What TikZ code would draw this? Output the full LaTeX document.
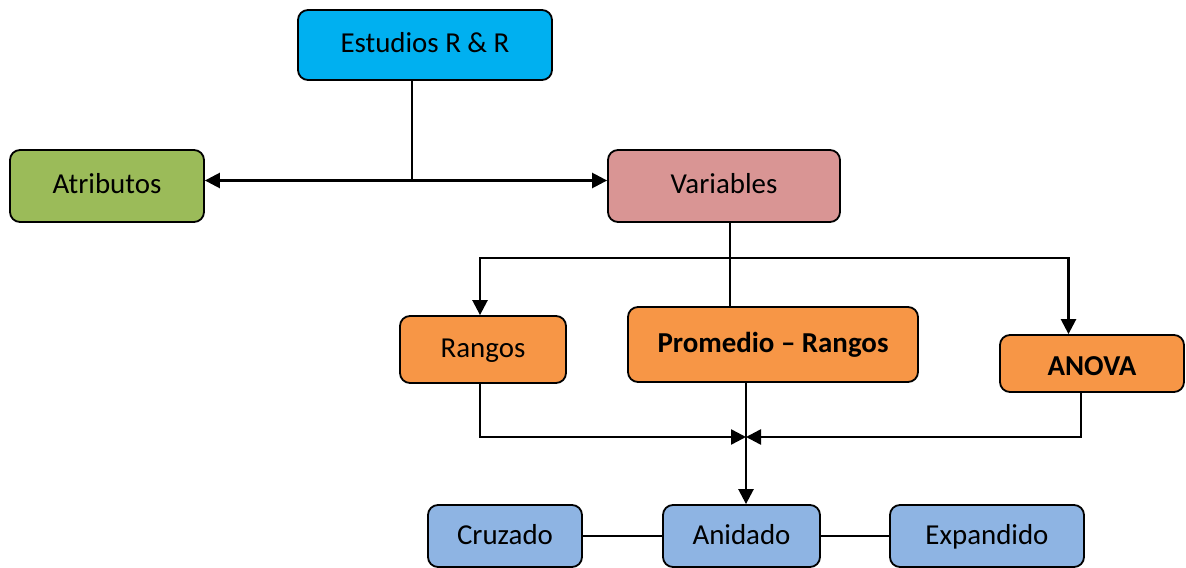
\documentclass[tikz,border=0pt]{standalone}
\usepackage{fontspec}
\setmainfont{Carlito}
\usetikzlibrary{arrows.meta}
\definecolor{cEst}{HTML}{00B0F0}
\definecolor{cAtr}{HTML}{9BBB59}
\definecolor{cVar}{HTML}{D99594}
\definecolor{cOra}{HTML}{F79646}
\definecolor{cBlu}{HTML}{8EB4E3}
\begin{document}
\begin{tikzpicture}[x=1bp,y=-1bp,
  box/.style={draw=black,line width=1.8bp,rounded corners=10bp,inner sep=0pt,
    text height=21bp,text depth=5bp,
    font=\fontsize{29}{34}\selectfont,text=black},
  thinline/.style={line width=1.8bp},
  arr/.style={line width=2.5bp,-{Triangle[length=15bp,width=15bp]}},
  darr/.style={line width=2.5bp,{Triangle[length=15bp,width=15bp]}-{Triangle[length=15bp,width=15bp]}}]
\useasboundingbox (0,0) rectangle (1186,568);
\fill[white] (0,0) rectangle (1186,568);

\node[box,fill=cEst,minimum width=254bp,minimum height=70bp] (est) at (425,45) {Estudios R \& R};
\node[box,fill=cAtr,minimum width=194bp,minimum height=72bp] (atr) at (107,186) {Atributos};
\node[box,fill=cVar,minimum width=232bp,minimum height=72bp] (var) at (724,186) {Variables};
\node[box,fill=cOra,minimum width=166bp,minimum height=67bp] (ran) at (483,349.5) {Rangos};
\node[box,fill=cOra,minimum width=290bp,minimum height=75bp,font=\fontsize{29}{34}\selectfont\bfseries] (pro) at (773,344.5) {Promedio – Rangos};
\node[box,fill=cOra,minimum width=184bp,minimum height=57bp,font=\fontsize{29}{34}\selectfont\bfseries,text height=23bp,text depth=0bp] (ano) at (1092,363.5) {ANOVA};
\node[box,fill=cBlu,minimum width=154bp,minimum height=62bp] (cru) at (505,536) {Cruzado};
\node[box,fill=cBlu,minimum width=157bp,minimum height=62bp] (ani) at (741.5,536) {Anidado};
\node[box,fill=cBlu,minimum width=194bp,minimum height=62bp] (exp) at (987,536) {Expandido};

% Estudios -> Atributos / Variables
\coordinate (j1) at (412,180.5);
\draw[thinline] (est.south -| j1) -- (j1);
\draw[darr] (atr.east |- j1) -- (var.west |- j1);

% Variables -> Rangos / Promedio / ANOVA
\coordinate (j2) at (730,258);
\coordinate (r1) at (480,258);
\coordinate (a1) at (1068.5,258);
\draw[thinline] (var.south -| j2) -- (pro.north -| j2);
\draw[arr] (j2) -| (ran.north -| r1);
\draw[arr] (j2) -| (ano.north -| a1);

% Merge into Anidado
\coordinate (m) at (746,437);
\coordinate (r2) at (480,437);
\coordinate (a2) at (1081,437);
\draw[arr] (ran.south -| r2) |- (m);
\draw[arr] (ano.south -| a2) |- (m);
\draw[arr] (pro.south -| m) -- (ani.north -| m);

% Bottom row
\draw[thinline] (cru) -- (ani);
\draw[thinline] (ani) -- (exp);
\end{tikzpicture}
\end{document}
